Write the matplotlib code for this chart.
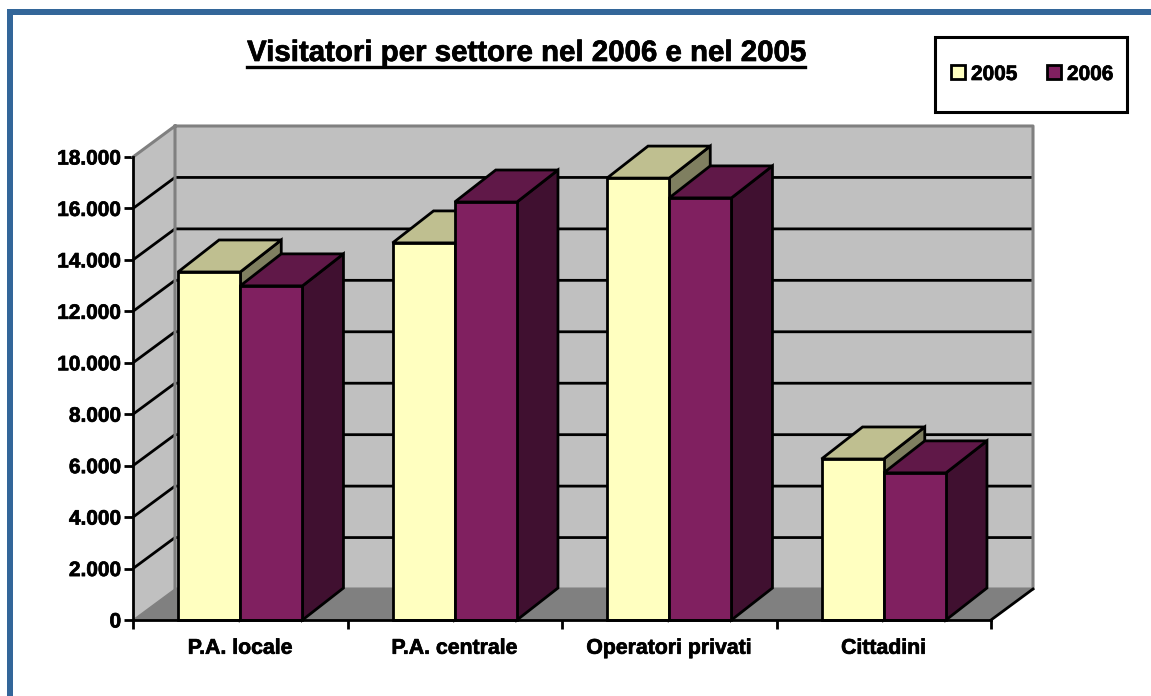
import matplotlib
matplotlib.use("Agg")
import matplotlib.pyplot as plt
import matplotlib.patheffects as pe
from matplotlib.lines import Line2D
from matplotlib.patches import Rectangle
from matplotlib.text import Text
from matplotlib.ticker import FuncFormatter, FixedLocator

plt.rcParams['font.family'] = ['Liberation Sans', 'DejaVu Sans']
plt.rcParams['font.weight'] = 'bold'

categories = ["P.A. locale", "P.A. centrale", "Operatori privati", "Cittadini"]
years = ["2005", "2006"]
values_2005 = [13530, 14660, 17180, 6260]
values_2006 = [12990, 16250, 16410, 5720]
y_ticks = [0, 2000, 4000, 6000, 8000, 10000, 12000, 14000, 16000, 18000]

W, H = 1151, 696
LW = 2.0  # about 3px

# front, top, side colours of each series
colors_2005 = ("#FFFFC0", "#BFBF90", "#7F7F60")
colors_2006 = ("#802060", "#601848", "#401030")

fig = plt.figure(figsize=(W / 100, H / 100), dpi=100, facecolor="white")
ax = fig.add_axes([133 / W, 1 - 620 / H, (991 - 133) / W, (620 - 157) / H])
ax.set_xlim(0, len(categories))
ax.set_ylim(0, y_ticks[-1])
ax.patch.set_visible(False)

# depth of the fake 3d box, in data units
px_x = len(categories) / (991 - 133)
px_y = y_ticks[-1] / (620 - 157)
dx = 42 * px_x
dy = 31 * px_y
bar_dx = 41 * px_x
bar_dy = 32 * px_y
n = len(categories)
top = y_ticks[-1]

# walls and floor
ax.fill([dx, n + dx, n + dx, dx], [dy, dy, top + dy, top + dy], fc="#C0C0C0", ec="none", clip_on=False, zorder=1)
ax.fill([0, dx, dx, 0], [0, dy, top + dy, top], fc="#C0C0C0", ec="none", clip_on=False, zorder=1)
ax.fill([0, n, n + dx, dx], [0, 0, dy, dy], fc="#808080", ec="none", clip_on=False, zorder=1)

for v in y_ticks[1:-1]:
    ax.plot([0, dx, n + dx], [v, v + dy, v + dy], color="black", lw=LW, clip_on=False, zorder=2, solid_capstyle="butt")

wall_edge = "#808080"
ax.plot([0, dx, n + dx, n + dx, dx, dx], [top, top + dy, top + dy, dy, dy, top + dy],
        color=wall_edge, lw=LW + 0.2, clip_on=False, zorder=2.2)
ax.plot([0, dx], [0, dy], color=wall_edge, lw=1.0, clip_on=False, zorder=2.2)
ax.plot([n, n + dx], [0, dy], color="black", lw=LW, clip_on=False, zorder=2.4)

# bars
gap = 0.21
width = 0.29
z = 3
for i in range(n):
    for j, (vals, cols) in enumerate([(values_2005, colors_2005), (values_2006, colors_2006)]):
        x0 = i + gap + j * width
        x1 = x0 + width
        v = vals[i]
        ax.fill([x1, x1 + bar_dx, x1 + bar_dx, x1], [0, bar_dy, v + bar_dy, v], fc=cols[2], ec="black",
                lw=LW, clip_on=False, zorder=z, joinstyle="miter")
        ax.fill([x0, x1, x1 + bar_dx, x0 + bar_dx], [v, v, v + bar_dy, v + bar_dy], fc=cols[1], ec="black",
                lw=LW, clip_on=False, zorder=z, joinstyle="miter")
        ax.bar(x0, v, width, align="edge", color=cols[0], edgecolor="black", lw=LW, clip_on=False, zorder=z + 0.1)
        z += 1

# axes
for s in ["top", "right"]:
    ax.spines[s].set_visible(False)
for s in ["left", "bottom"]:
    ax.spines[s].set_linewidth(LW)
    ax.spines[s].set_zorder(50)
ax.set_yticks(y_ticks)
ax.yaxis.set_major_formatter(FuncFormatter(lambda v, p: f"{v:,.0f}".replace(",", ".")))
ax.tick_params(axis="y", length=6.5, width=LW, labelsize=15, pad=2, zorder=50)
ax.set_xticks(range(n + 1))
ax.set_xticklabels([])
ax.xaxis.set_minor_locator(FixedLocator([i + 0.5 for i in range(n)]))
ax.set_xticklabels(categories, minor=True)
ax.tick_params(axis="x", which="major", length=6.5, width=LW)
ax.tick_params(axis="x", which="minor", length=0, labelsize=15.3, pad=13.5)

# title with underline
title = fig.text(526 / W, 1 - 53 / H, "Visitatori per settore nel 2006 e nel 2005", fontsize=21.2,
                 fontweight="bold", ha="center", va="center")
fig.canvas.draw()
bb = title.get_window_extent()
fig.add_artist(Line2D([bb.x0 / W, bb.x1 / W], [1 - 66.5 / H] * 2, color="black", lw=2.4))

# legend box
fig.add_artist(Rectangle((935 / W, 1 - 112 / H), 192 / W, 75 / H, fc="white", ec="black", lw=LW + 0.2,
                         transform=fig.transFigure))
for x, label, cols in [(951, years[0], colors_2005), (1047, years[1], colors_2006)]:
    fig.add_artist(Rectangle((x / W, 1 - 79 / H), 14 / W, 14 / H, fc=cols[0], ec="black", lw=LW,
                             transform=fig.transFigure))
    fig.text((x + 20) / W, 1 - 72.5 / H, label, fontsize=15, ha="left", va="center_baseline")

# blue frame, open at the bottom and on the right
frame = "#336699"
fig.add_artist(Rectangle((7 / W, 0), 6 / W, 1 - 9 / H, fc=frame, ec="none", transform=fig.transFigure))
fig.add_artist(Rectangle((7 / W, 1 - 15 / H), 1 - 7 / W, 6 / H, fc=frame, ec="none", transform=fig.transFigure))

# the original text is heavier than plain bold
for t in fig.findobj(Text):
    t.set_path_effects([pe.withStroke(linewidth=0.5, foreground="black")])

fig.savefig("out.png", dpi=100)
